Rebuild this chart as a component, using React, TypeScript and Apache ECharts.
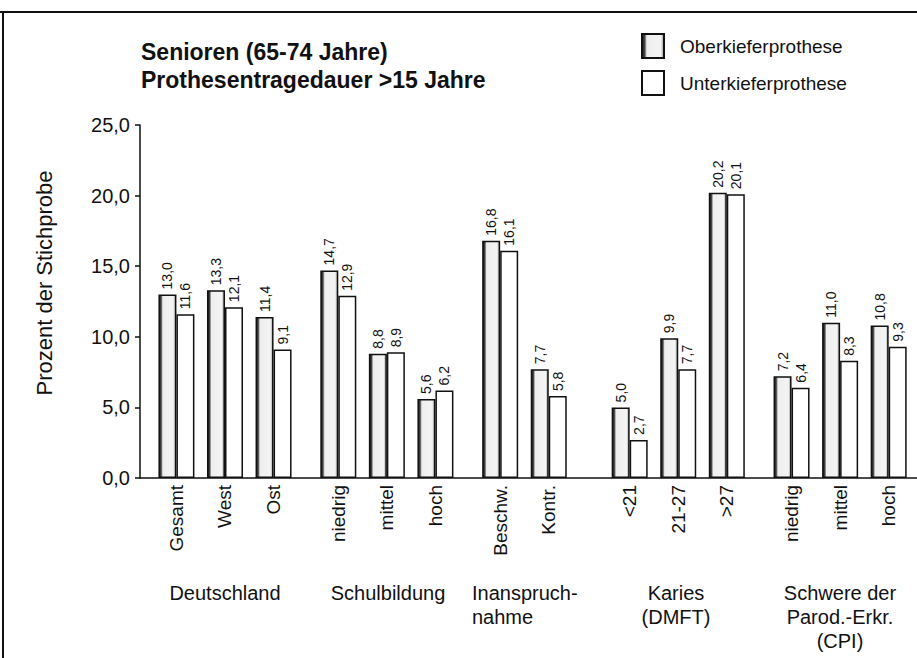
import React, { useEffect, useRef } from "react";
import * as echarts from "echarts";

const titleLines = ["Senioren (65-74 Jahre)", "Prothesentragedauer >15 Jahre"];
const yAxisTitle = "Prozent der Stichprobe";
const seriesNames = ["Oberkieferprothese", "Unterkieferprothese"];
const groupNames = [
  "Deutschland",
  "Schulbildung",
  "Inanspruch-\nnahme",
  "Karies\n(DMFT)",
  "Schwere der\nParod.-Erkr.\n(CPI)",
];
const groupItems = [
  ["Gesamt", "West", "Ost"],
  ["niedrig", "mittel", "hoch"],
  ["Beschw.", "Kontr."],
  ["<21", "21-27", ">27"],
  ["niedrig", "mittel", "hoch"],
];
const oberkiefer = [13.0, 13.3, 11.4, 14.7, 8.8, 5.6, 16.8, 7.7, 5.0, 9.9, 20.2, 7.2, 11.0, 10.8];
const unterkiefer = [11.6, 12.1, 9.1, 12.9, 8.9, 6.2, 16.1, 5.8, 2.7, 7.7, 20.1, 6.4, 8.3, 9.3];
const yTicks = [0, 5, 10, 15, 20, 25];

// layout of fine slots on the category axis
const LEAD = 4;
const STEP = 6;
const GAP_AFTER = [2, 2, 4, 2, 0];
const TOTAL = 96;

function buildSlots() {
  const labels: string[] = new Array(TOTAL).fill("");
  const ober: any[] = new Array(TOTAL).fill("-");
  const unter: any[] = new Array(TOTAL).fill("-");
  let pos = 0;
  let k = 0;
  groupItems.forEach((items, gi) => {
    items.forEach((name) => {
      const s = LEAD + pos;
      labels[s] = name;
      ober[s] = oberkiefer[k];
      unter[s] = unterkiefer[k];
      k++;
      pos += STEP;
    });
    pos += GAP_AFTER[gi];
  });
  return { labels, ober, unter };
}

const fmt = (v: number) => v.toFixed(1).replace(".", ",");

export default function App() {
  const ref = useRef<HTMLDivElement>(null);
  useEffect(() => {
    if (!ref.current) return;
    const chart = echarts.init(ref.current, null, { renderer: "svg" });
    const { labels, ober, unter } = buildSlots();
    const font = "'Liberation Sans', Arial, Helvetica, sans-serif";
    const labelCfg = {
      show: true,
      position: "top",
      rotate: 90,
      align: "left",
      verticalAlign: "middle",
      distance: 5,
      fontSize: 14,
      fontFamily: font,
      color: "#111",
      formatter: (p: any) => fmt(p.value),
    };
    const groupPos = [
      { x: 225, align: "center" },
      { x: 388, align: "center" },
      { x: 472, align: "left" },
      { x: 676, align: "center" },
      { x: 840, align: "center" },
    ];
    chart.setOption({
      animation: false,
      backgroundColor: "#fff",
      textStyle: { fontFamily: font },
      title: {
        text: titleLines.join("\n"),
        left: 136,
        top: 33,
        textStyle: {
          fontSize: 23,
          fontWeight: "bold",
          color: "#111",
          lineHeight: 28,
          fontFamily: font,
        },
      },
      legend: {
        orient: "vertical",
        left: 636,
        top: 28,
        itemWidth: 22,
        itemHeight: 24,
        itemGap: 11,
        icon: "rect",
        textStyle: {
          fontSize: 19,
          color: "#111",
          fontFamily: font,
          padding: [0, 0, 0, 11],
        },
        data: seriesNames,
      },
      grid: { left: 140, top: 125, width: 777, height: 353 },
      xAxis: {
        type: "category",
        data: labels,
        axisLine: { show: true, lineStyle: { color: "#111", width: 1.5 } },
        axisTick: { show: false },
        axisLabel: {
          interval: 0,
          rotate: 90,
          margin: 7,
          fontSize: 19,
          color: "#111",
          fontFamily: font,
        },
      },
      yAxis: {
        type: "value",
        min: 0,
        max: 25,
        interval: 5,
        axisLine: { show: true, lineStyle: { color: "#111", width: 1.5 } },
        axisTick: { show: true, length: 5, lineStyle: { color: "#111", width: 1.5 } },
        splitLine: { show: false },
        axisLabel: {
          fontSize: 20,
          color: "#111",
          margin: 10,
          fontFamily: font,
          formatter: (v: number) => (yTicks.includes(v) ? fmt(v) : ""),
        },
      },
      series: [
        {
          name: seriesNames[0],
          type: "bar",
          data: ober,
          barWidth: 18,
          barGap: "0%",
          itemStyle: {
            color: new echarts.graphic.LinearGradient(0, 0, 1, 0, [
              { offset: 0, color: "#1a1a1a" },
              { offset: 0.12, color: "#444" },
              { offset: 0.22, color: "#eeeeee" },
              { offset: 0.85, color: "#f4f4f4" },
              { offset: 1, color: "#9a9a9a" },
            ]),
            borderColor: "#111",
            borderWidth: 1.5,
          },
          label: labelCfg,
        },
        {
          name: seriesNames[1],
          type: "bar",
          data: unter,
          barWidth: 18,
          itemStyle: { color: "#fff", borderColor: "#111", borderWidth: 1.5 },
          label: labelCfg,
        },
      ],
      graphic: [
        {
          type: "line",
          shape: { x1: 0, y1: 12, x2: 917, y2: 12 },
          style: { stroke: "#111", lineWidth: 2 },
        },
        {
          type: "line",
          shape: { x1: 3, y1: 12, x2: 3, y2: 658 },
          style: { stroke: "#111", lineWidth: 2 },
        },
        {
          type: "text",
          x: 44,
          y: 283,
          rotation: Math.PI / 2,
          style: {
            text: yAxisTitle,
            fontSize: 22,
            fill: "#111",
            fontFamily: font,
            textAlign: "center",
            textVerticalAlign: "middle",
          },
        },
        ...groupNames.map((g, i) => ({
          type: "text",
          x: groupPos[i].x,
          y: 581,
          style: {
            text: g,
            fontSize: 20,
            lineHeight: 24,
            fill: "#111",
            fontFamily: font,
            textAlign: groupPos[i].align,
            textVerticalAlign: "top",
          },
        })),
      ],
    });
    return () => chart.dispose();
  }, []);
  return (
    <div
      ref={ref}
      style={{ position: "fixed", left: 0, top: 0, width: 917, height: 658 }}
    />
  );
}
